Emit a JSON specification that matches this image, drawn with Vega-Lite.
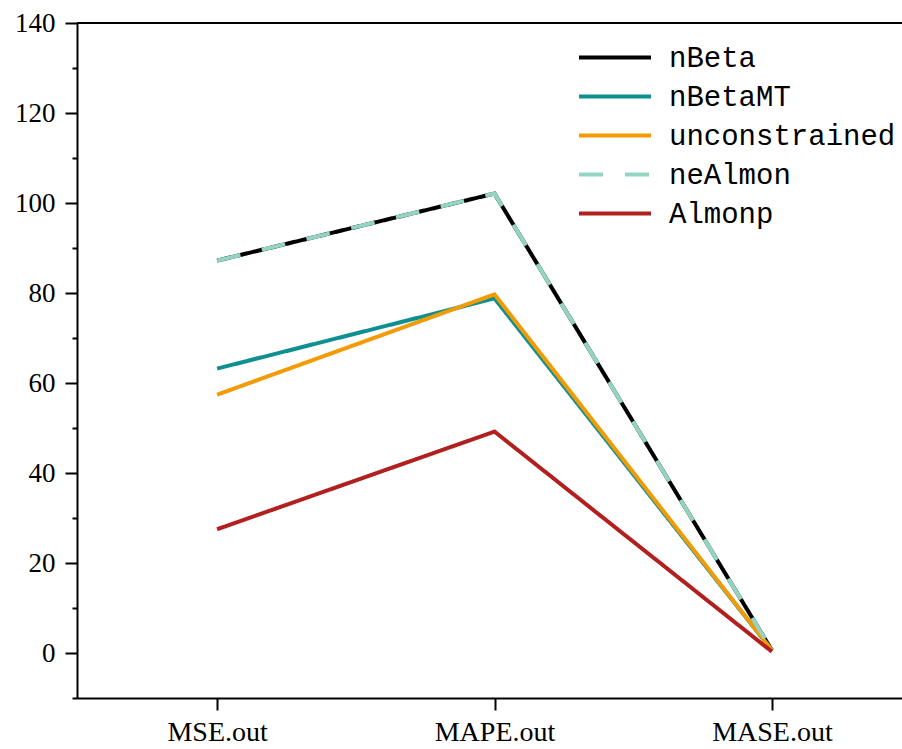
{
  "$schema": "https://vega.github.io/schema/vega-lite/v6.json",
  "width": 835,
  "height": 675,
  "autosize": {"type": "none"},
  "padding": {"left": 77, "top": 23, "right": -10, "bottom": 51},
  "background": "white",
  "config": {
    "view": {"stroke": null},
    "axis": {"domainColor": "black", "domainWidth": 2, "tickColor": "black", "tickWidth": 2, "labelColor": "black", "grid": false, "title": null}
  },
  "data": {
    "values": [
      {"series": "nBeta", "metric": "MSE.out", "value": 87.2},
      {"series": "nBeta", "metric": "MAPE.out", "value": 102.1},
      {"series": "nBeta", "metric": "MASE.out", "value": 0.6},
      {"series": "nBetaMT", "metric": "MSE.out", "value": 63.2},
      {"series": "nBetaMT", "metric": "MAPE.out", "value": 78.8},
      {"series": "nBetaMT", "metric": "MASE.out", "value": 0.6},
      {"series": "unconstrained", "metric": "MSE.out", "value": 57.4},
      {"series": "unconstrained", "metric": "MAPE.out", "value": 79.7},
      {"series": "unconstrained", "metric": "MASE.out", "value": 0.6},
      {"series": "neAlmon", "metric": "MSE.out", "value": 87.2},
      {"series": "neAlmon", "metric": "MAPE.out", "value": 102.1},
      {"series": "neAlmon", "metric": "MASE.out", "value": 0.6},
      {"series": "Almonp", "metric": "MSE.out", "value": 27.5},
      {"series": "Almonp", "metric": "MAPE.out", "value": 49.2},
      {"series": "Almonp", "metric": "MASE.out", "value": 0.3}
    ]
  },
  "layer": [
    {
      "mark": {"type": "rule", "color": "black", "strokeWidth": 2},
      "encoding": {"y": {"datum": 140}}
    },
    {
      "mark": {"type": "line", "strokeWidth": 4, "strokeCap": "butt"},
      "encoding": {
        "x": {
          "field": "metric", "type": "ordinal",
          "sort": ["MSE.out", "MAPE.out", "MASE.out"],
          "scale": {"type": "point", "padding": 0.505},
          "axis": {"labelFont": "Liberation Serif", "labelFontSize": 28, "tickSize": 12, "labelPadding": 8, "labelAngle": 0}
        },
        "y": {
          "field": "value", "type": "quantitative",
          "scale": {"domain": [-10, 140], "nice": false, "zero": false},
          "axis": {
            "values": [-10, 0, 10, 20, 30, 40, 50, 60, 70, 80, 90, 100, 110, 120, 130, 140],
            "tickSize": {"condition": {"test": "datum.value % 20 === 0", "value": 12}, "value": 5},
            "labelExpr": "datum.value % 20 === 0 ? datum.label : ''",
            "labelFont": "Liberation Serif", "labelFontSize": 27, "labelPadding": 10
          }
        },
        "color": {
          "field": "series", "type": "nominal",
          "scale": {
            "domain": ["nBeta", "nBetaMT", "unconstrained", "neAlmon", "Almonp"],
            "range": ["#000000", "#0F9090", "#F29B05", "#93D5C2", "#B21F1F"]
          },
          "legend": {
            "orient": "none", "legendX": 500, "legendY": 15, "title": null, "padding": 0,
            "symbolType": "stroke", "symbolSize": 5184, "symbolStrokeWidth": 4, "clipHeight": 39,
            "labelFont": "Liberation Mono", "labelFontSize": 29, "labelColor": "black", "labelOffset": 16, "labelLimit": 0, "rowPadding": 0
          }
        },
        "strokeDash": {
          "field": "series", "type": "nominal",
          "scale": {
            "domain": ["nBeta", "nBetaMT", "unconstrained", "neAlmon", "Almonp"],
            "range": [[1, 0], [1, 0], [1, 0], [24, 22], [1, 0]]
          },
          "legend": {
            "orient": "none", "legendX": 500, "legendY": 15, "title": null, "padding": 0,
            "symbolType": "stroke", "symbolSize": 5184, "symbolStrokeWidth": 4, "clipHeight": 39,
            "labelFont": "Liberation Mono", "labelFontSize": 29, "labelColor": "black", "labelOffset": 16, "labelLimit": 0, "rowPadding": 0
          }
        }
      }
    }
  ]
}
